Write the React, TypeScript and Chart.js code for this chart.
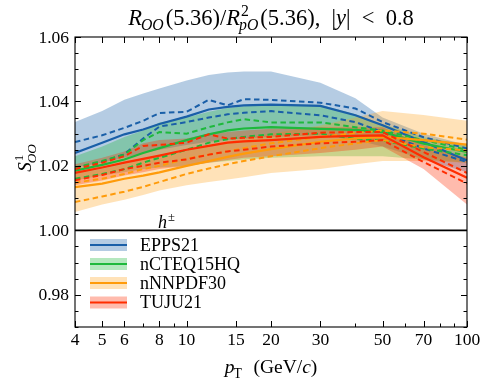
import React, { useEffect, useRef } from "react";
import { Chart, registerables } from "chart.js";

Chart.register(...registerables);

// pT sampling points (GeV/c)
const PT = [4, 5, 6, 7, 8, 10, 12, 14, 16, 20, 30, 40, 50, 70, 100];

// EPPS21
const EPPS_C = [1.024, 1.0272, 1.0298, 1.0313, 1.033, 1.0353, 1.0375, 1.0383, 1.0388, 1.039, 1.0386, 1.0357, 1.0326, 1.0274, 1.0217];
const EPPS_U = [1.0274, 1.0295, 1.0318, 1.034, 1.0364, 1.0368, 1.0405, 1.0388, 1.0407, 1.0405, 1.0396, 1.0378, 1.0336, 1.0289, 1.0254];
const EPPS_L = [1.0192, 1.0213, 1.0236, 1.0285, 1.0322, 1.0336, 1.035, 1.036, 1.0365, 1.037, 1.0357, 1.0336, 1.0305, 1.0254, 1.0212];
const EPPS_BU = [1.0336, 1.037, 1.0405, 1.0425, 1.044, 1.0465, 1.0482, 1.049, 1.0493, 1.0493, 1.0458, 1.041, 1.035, 1.030, 1.0265];
const EPPS_BL = [1.0195, 1.021, 1.0225, 1.024, 1.025, 1.0265, 1.0275, 1.028, 1.0285, 1.029, 1.0295, 1.028, 1.026, 1.022, 1.018];

// nCTEQ15HQ
const NCTEQ_C = [1.0185, 1.0203, 1.022, 1.024, 1.0255, 1.028, 1.0298, 1.031, 1.0316, 1.032, 1.0315, 1.0312, 1.0305, 1.0269, 1.0243];
const NCTEQ_U = [1.0195, 1.0215, 1.0235, 1.028, 1.0305, 1.030, 1.032, 1.0335, 1.0345, 1.0335, 1.0335, 1.032, 1.031, 1.028, 1.025];
const NCTEQ_L = [1.016, 1.0175, 1.019, 1.021, 1.0225, 1.025, 1.0272, 1.0283, 1.029, 1.0298, 1.030, 1.0284, 1.0279, 1.0254, 1.0233];
const NCTEQ_BU = [1.023, 1.026, 1.029, 1.031, 1.0335, 1.035, 1.0368, 1.038, 1.0385, 1.039, 1.039, 1.036, 1.033, 1.029, 1.0265];
const NCTEQ_BL = [1.0155, 1.017, 1.018, 1.019, 1.0195, 1.020, 1.021, 1.0215, 1.022, 1.0225, 1.023, 1.023, 1.023, 1.022, 1.021];

// nNNPDF30
const NNPDF_C = [1.0134, 1.0145, 1.016, 1.017, 1.018, 1.020, 1.0215, 1.0228, 1.0238, 1.0252, 1.0275, 1.0285, 1.029, 1.028, 1.0266];
const NNPDF_U = [1.0148, 1.016, 1.0175, 1.019, 1.020, 1.0222, 1.0235, 1.0245, 1.0255, 1.027, 1.029, 1.0302, 1.031, 1.030, 1.0281];
const NNPDF_L = [1.0088, 1.0105, 1.012, 1.0135, 1.015, 1.0175, 1.0192, 1.0205, 1.0215, 1.023, 1.0255, 1.027, 1.028, 1.0258, 1.0248];
const NNPDF_BU = [1.0175, 1.019, 1.0205, 1.022, 1.023, 1.025, 1.0265, 1.0275, 1.0285, 1.030, 1.0325, 1.035, 1.037, 1.0358, 1.034];
const NNPDF_BL = [1.0057, 1.008, 1.0095, 1.011, 1.0124, 1.014, 1.015, 1.0158, 1.0165, 1.0178, 1.019, 1.0205, 1.0215, 1.0215, 1.021];

// TUJU21
const TUJU_C = [1.0178, 1.0195, 1.021, 1.0222, 1.0232, 1.025, 1.0262, 1.0272, 1.0276, 1.028, 1.029, 1.0293, 1.0295, 1.0227, 1.0163];
const TUJU_U = [1.019, 1.021, 1.023, 1.0262, 1.0265, 1.0272, 1.0298, 1.0285, 1.0287, 1.029, 1.0303, 1.0305, 1.0305, 1.0243, 1.0178];
const TUJU_L = [1.0155, 1.0172, 1.019, 1.020, 1.021, 1.022, 1.0235, 1.0245, 1.025, 1.026, 1.027, 1.0275, 1.028, 1.0212, 1.0145];
const TUJU_BU = [1.0205, 1.0225, 1.0245, 1.027, 1.028, 1.0285, 1.030, 1.0305, 1.031, 1.0315, 1.032, 1.032, 1.032, 1.0265, 1.0225];
const TUJU_BL = [1.014, 1.0155, 1.017, 1.018, 1.019, 1.020, 1.021, 1.0218, 1.0225, 1.023, 1.024, 1.025, 1.026, 1.019, 1.008];

const MODEL_NAMES = ["EPPS21", "nCTEQ15HQ", "nNNPDF30", "TUJU21"];
const LINE_COLORS = ["rgb(26,95,168)", "rgb(30,185,60)", "rgb(255,155,10)", "rgb(255,45,0)"];
const BAND_COLORS = ["rgba(26,95,168,0.32)", "rgba(30,185,60,0.33)", "rgba(255,160,20,0.3)", "rgba(255,45,0,0.32)"];

// axis ticks
const X_MAJOR = [4, 5, 6, 8, 10, 15, 20, 30, 50, 70, 100];
const X_MINOR = [7, 9, 40, 60, 80, 90];
const Y_MAJOR = [0.98, 1.0, 1.02, 1.04, 1.06];
const Y_LABELS = ["0.98", "1.00", "1.02", "1.04", "1.06"];
const Y_MINOR = [0.97, 0.975, 0.985, 0.99, 0.995, 1.005, 1.01, 1.015, 1.025, 1.03, 1.035, 1.045, 1.05, 1.055];
const REF_LINE = 1.0;

const MODELS = [
  { c: EPPS_C, u: EPPS_U, l: EPPS_L, bu: EPPS_BU, bl: EPPS_BL },
  { c: NCTEQ_C, u: NCTEQ_U, l: NCTEQ_L, bu: NCTEQ_BU, bl: NCTEQ_BL },
  { c: NNPDF_C, u: NNPDF_U, l: NNPDF_L, bu: NNPDF_BU, bl: NNPDF_BL },
  { c: TUJU_C, u: TUJU_U, l: TUJU_L, bu: TUJU_BU, bl: TUJU_BL },
];

const SERIF = "'Liberation Serif', 'Times New Roman', serif";

type Part = { t: string; it?: boolean; sub?: string; subIt?: boolean; sup?: string };

function font(size: number, it?: boolean) {
  return `${it ? "italic " : ""}${size}px ${SERIF}`;
}

function measureParts(ctx: CanvasRenderingContext2D, parts: Part[], size: number) {
  let w = 0;
  for (const p of parts) {
    ctx.font = font(size, p.it);
    w += ctx.measureText(p.t).width;
    const s = size * 0.7;
    let sw = 0;
    if (p.sub) {
      ctx.font = font(s, p.subIt !== false);
      sw = Math.max(sw, ctx.measureText(p.sub).width);
    }
    if (p.sup) {
      ctx.font = font(s, false);
      sw = Math.max(sw, ctx.measureText(p.sup).width);
    }
    w += sw + (sw > 0 ? 1 : 0);
  }
  return w;
}

function drawParts(ctx: CanvasRenderingContext2D, parts: Part[], x: number, y: number, size: number) {
  let cx = x;
  ctx.textBaseline = "alphabetic";
  ctx.textAlign = "left";
  for (const p of parts) {
    ctx.font = font(size, p.it);
    ctx.fillText(p.t, cx, y);
    cx += ctx.measureText(p.t).width;
    const s = size * 0.7;
    let sw = 0;
    if (p.sub) {
      ctx.font = font(s, p.subIt !== false);
      ctx.fillText(p.sub, cx + (p.it ? -1 : 0), y + size * 0.24);
      sw = Math.max(sw, ctx.measureText(p.sub).width);
    }
    if (p.sup) {
      ctx.font = font(s, false);
      ctx.fillText(p.sup, cx + 1, y - size * 0.4);
      sw = Math.max(sw, ctx.measureText(p.sup).width);
    }
    cx += sw + (sw > 0 ? 1 : 0);
  }
}

const decorPlugin = {
  id: "decor",
  afterDraw(chart: any) {
    const ctx: CanvasRenderingContext2D = chart.ctx;
    const ca = chart.chartArea;
    const xs = chart.scales.x;
    const ys = chart.scales.y;
    ctx.save();
    ctx.fillStyle = "#000";
    ctx.strokeStyle = "#000";

    // reference line
    const y1 = ys.getPixelForValue(REF_LINE);
    ctx.lineWidth = 1.8;
    ctx.beginPath();
    ctx.moveTo(ca.left, y1);
    ctx.lineTo(ca.right, y1);
    ctx.stroke();

    // frame
    ctx.lineWidth = 1.1;
    ctx.strokeRect(ca.left, ca.top, ca.right - ca.left, ca.bottom - ca.top);

    // ticks (inward, all four sides)
    ctx.lineWidth = 1;
    ctx.beginPath();
    const xt = (v: number, len: number) => {
      const px = Math.round(xs.getPixelForValue(v)) + 0.5;
      ctx.moveTo(px, ca.bottom);
      ctx.lineTo(px, ca.bottom - len);
      ctx.moveTo(px, ca.top);
      ctx.lineTo(px, ca.top + len);
    };
    const yt = (v: number, len: number) => {
      const py = Math.round(ys.getPixelForValue(v)) + 0.5;
      ctx.moveTo(ca.left, py);
      ctx.lineTo(ca.left + len, py);
      ctx.moveTo(ca.right, py);
      ctx.lineTo(ca.right - len, py);
    };
    X_MAJOR.forEach((v) => xt(v, 6));
    X_MINOR.forEach((v) => xt(v, 3.5));
    Y_MAJOR.forEach((v) => yt(v, 6));
    Y_MINOR.forEach((v) => yt(v, 3.5));
    ctx.stroke();

    // tick labels
    ctx.font = font(17.5);
    ctx.textAlign = "center";
    ctx.textBaseline = "alphabetic";
    X_MAJOR.forEach((v) => {
      ctx.fillText(String(v), xs.getPixelForValue(v), ca.bottom + 18);
    });
    ctx.textAlign = "right";
    ctx.textBaseline = "middle";
    Y_MAJOR.forEach((v, i) => {
      ctx.fillText(Y_LABELS[i], ca.left - 6, ys.getPixelForValue(v) + 1);
    });

    // title
    const title: Part[] = [
      { t: "R", it: true, sub: "OO" },
      { t: "(5.36)/" },
      { t: "R", it: true, sub: "pO", sup: "2" },
      { t: "(5.36),  |" },
      { t: "y", it: true },
      { t: "|  <  0.8" },
    ];
    const ts = 22.5;
    const tw = measureParts(ctx, title, ts);
    drawParts(ctx, title, (ca.left + ca.right) / 2 - tw / 2, 25, ts);

    // x label
    const xl: Part[] = [
      { t: "p", it: true, sub: "T", subIt: false },
      { t: "  (GeV/" },
      { t: "c", it: true },
      { t: ")" },
    ];
    const xls = 19.5;
    const xlw = measureParts(ctx, xl, xls);
    drawParts(ctx, xl, (ca.left + ca.right) / 2 - xlw / 2, 373, xls);

    // y label (rotated)
    const yl: Part[] = [{ t: "S", it: true, sub: "OO", sup: "1" }];
    const yls = 19;
    const ylw = measureParts(ctx, yl, yls);
    ctx.save();
    ctx.translate(31, 157);
    ctx.rotate(-Math.PI / 2);
    drawParts(ctx, yl, -ylw / 2, 0, yls);
    ctx.restore();

    // h± annotation
    drawParts(ctx, [{ t: "h", it: true, sup: "±" }], xs.getPixelForValue(7.9), y1 - 2, 18);

    // legend
    const ly = [245, 264, 283, 302.5];
    MODEL_NAMES.forEach((name, i) => {
      const y = ly[i];
      ctx.fillStyle = BAND_COLORS[i];
      ctx.fillRect(90, y - 6, 37, 12);
      ctx.strokeStyle = LINE_COLORS[i];
      ctx.lineWidth = 2;
      ctx.beginPath();
      ctx.moveTo(90, y);
      ctx.lineTo(127, y);
      ctx.stroke();
      ctx.fillStyle = "#000";
      ctx.font = font(18);
      ctx.textAlign = "left";
      ctx.textBaseline = "middle";
      ctx.fillText(name, 140, y + 1);
    });

    ctx.restore();
  },
};

function pts(vals: number[]) {
  return PT.map((x, i) => ({ x, y: vals[i] }));
}

export default function App() {
  const ref = useRef<HTMLCanvasElement | null>(null);
  useEffect(() => {
    document.body.style.margin = "0";
    const canvas = ref.current!;
    const datasets: any[] = [];
    MODELS.forEach((m, i) => {
      datasets.push({
        label: MODEL_NAMES[i] + " band",
        data: pts(m.bu),
        borderWidth: 0,
        pointRadius: 0,
        backgroundColor: BAND_COLORS[i],
        fill: "+1",
        order: 30 - i,
      });
      datasets.push({
        label: MODEL_NAMES[i] + " band low",
        data: pts(m.bl),
        borderWidth: 0,
        pointRadius: 0,
        fill: false,
        order: 30 - i,
      });
    });
    MODELS.forEach((m, i) => {
      const base = { pointRadius: 0, fill: false, borderColor: LINE_COLORS[i], order: 10 - i };
      datasets.push({ ...base, label: MODEL_NAMES[i] + " up", data: pts(m.u), borderWidth: 2, borderDash: [5.5, 3.5] });
      datasets.push({ ...base, label: MODEL_NAMES[i] + " low", data: pts(m.l), borderWidth: 2, borderDash: [5.5, 3.5] });
      datasets.push({ ...base, label: MODEL_NAMES[i], data: pts(m.c), borderWidth: 2.2 });
    });

    const chart = new Chart(canvas, {
      type: "line",
      data: { datasets },
      options: {
        animation: false,
        responsive: false,
        maintainAspectRatio: false,
        layout: { padding: { left: 75, right: 21, top: 37, bottom: 57 } },
        scales: {
          x: { type: "logarithmic", min: 4, max: 100, display: false },
          y: { type: "linear", min: 0.97, max: 1.06, display: false },
        },
        elements: { line: { tension: 0 }, point: { radius: 0 } },
        plugins: { legend: { display: false }, tooltip: { enabled: false } },
      },
      plugins: [decorPlugin],
    } as any);
    return () => chart.destroy();
  }, []);
  return (
    <div style={{ width: 488, height: 384, background: "#fff" }}>
      <canvas ref={ref} width={488} height={384} style={{ display: "block" }} />
    </div>
  );
}
